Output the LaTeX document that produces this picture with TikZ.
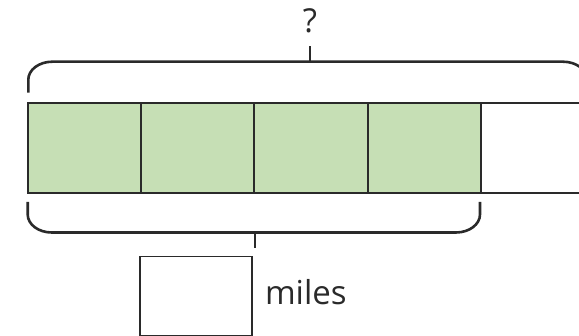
\documentclass[tikz,border=0pt]{standalone}
\usepackage{fontspec}
\setmainfont{Open Sans}
\definecolor{barfill}{HTML}{C6DFB5}
\definecolor{ink}{HTML}{2A2A2A}
\begin{document}
\begin{tikzpicture}[x=1pt,y=-1pt,
  cellbox/.style={draw=ink,fill=barfill,line width=2pt,minimum width=113.3pt,minimum height=89.4pt,inner sep=0pt,outer sep=0pt,anchor=north west},
  bracestyle/.style={draw=ink,line width=2.6pt},
  tickstyle/.style={draw=ink,line width=2pt},
  labeltext/.style={font=\fontsize{33}{36}\selectfont,text=ink,inner sep=0pt,outer sep=0pt},
  answerbox/.style={draw=ink,line width=1.8pt,minimum width=111.4pt,minimum height=79.3pt,inner sep=0pt,anchor=north west}]
\useasboundingbox (0,0) rectangle (579,336);
\begin{scope}
\clip (0,0) rectangle (579,336);
% bar cells
\node[cellbox] (c1) at (27.7,103.3) {};
\node[cellbox] (c2) at (141,103.3) {};
\node[cellbox] (c3) at (254.3,103.3) {};
\node[cellbox] (c4) at (367.6,103.3) {};
\coordinate (c5nw) at (481,103.3);
\coordinate (c5sw) at (481,192.7);
\draw[ink,line width=2pt] (c5nw) -- (600,103.3);
\draw[ink,line width=2pt] (c5sw) -- (600,192.7);
% top brace
\draw[bracestyle] (28.3,92.7) -- (28.3,79.7)
  .. controls (28.3,69.8) and (39,61.7) .. (52.3,61.7)
  -- (563,61.7)
  .. controls (576.3,61.7) and (587,69.8) .. (587,79.7) -- (587,92.7);
\coordinate (topmid) at (310,61.7);
% bottom brace
\draw[bracestyle] (27.7,202) -- (27.7,214.5)
  .. controls (27.7,224.4) and (38.4,232.5) .. (51.7,232.5)
  -- (456,232.5)
  .. controls (469.3,232.5) and (480,224.4) .. (480,214.5) -- (480,202);
\coordinate (botmid) at (255,232.5);
\end{scope}
% labels
\node[labeltext,anchor=base] (q) at (310,33) {?};
\coordinate (qtick) at (310,46);
\draw[tickstyle] (topmid) -- (qtick);
\node[answerbox] (ans) at (139.3,255.7) {};
\coordinate (anstick) at (255,248);
\draw[tickstyle] (botmid) -- (anstick);
\node[labeltext,anchor=base west] (miles) at (265,305) {miles};
\end{tikzpicture}
\end{document}
